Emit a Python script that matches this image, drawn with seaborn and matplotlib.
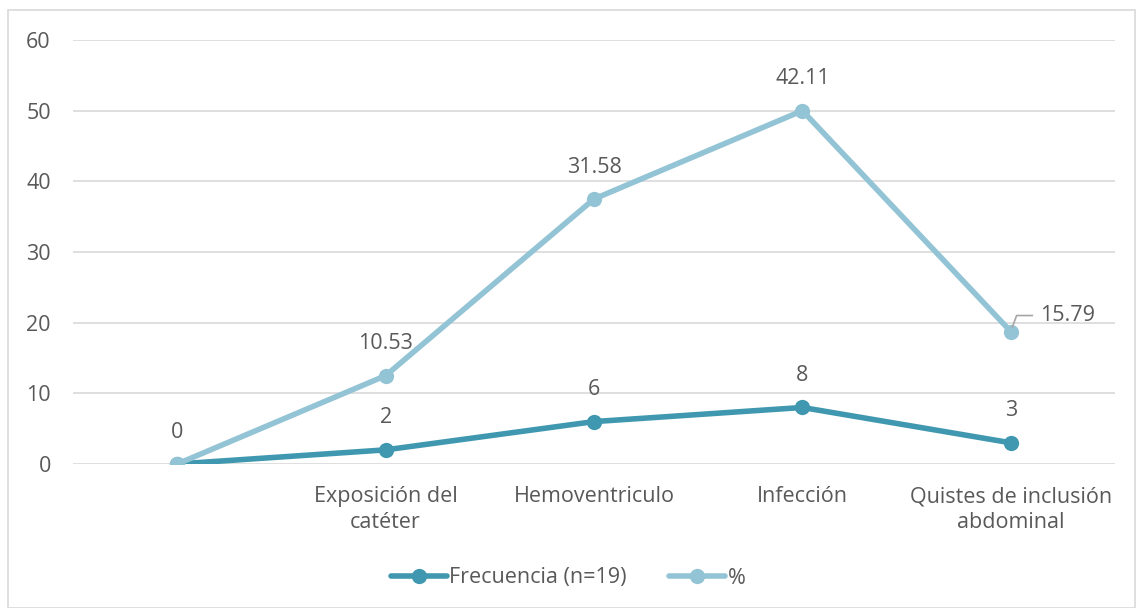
import matplotlib
matplotlib.use("Agg")
import matplotlib.pyplot as plt
import seaborn as sns
import pandas as pd
from matplotlib.patches import Rectangle
from matplotlib.lines import Line2D

categories = ["", "Exposición del\ncatéter", "Hemoventriculo", "Infección", "Quistes de inclusión\nabdominal"]
frecuencia = [0, 2, 6, 8, 3]
porcentaje_plot = [0, 12.5, 37.5, 50, 18.75]
porcentaje_labels = ["0", "10.53", "31.58", "42.11", "15.79"]
frecuencia_labels = ["", "2", "6", "8", "3"]
yticks = [0, 10, 20, 30, 40, 50, 60]

sns.set_theme(style="white")
plt.rcParams['font.family'] = ['Open Sans', 'DejaVu Sans']

dark = "#3F98AF"
light = "#93C4D5"
txt = "#595959"
fs = 15.5

fig = plt.figure(figsize=(11.36, 6.08), dpi=100)
ax = fig.add_axes([73/1136, 1 - 464/608, (1115-73)/1136, (464-40)/608])

x = list(range(len(categories)))
df = pd.DataFrame({
    "x": x * 2,
    "y": frecuencia + porcentaje_plot,
    "serie": ["Frecuencia (n=19)"] * len(x) + ["%"] * len(x),
})
sns.lineplot(data=df, x="x", y="y", hue="serie", palette=[dark, light],
             marker="o", markersize=11, linewidth=4, markeredgewidth=0, ax=ax, legend=False)

ax.set_xlim(-0.5, len(categories) - 0.5)
ax.set_ylim(0, 60)
ax.set_yticks(yticks)
ax.set_yticklabels([str(t) for t in yticks], fontsize=fs, color=txt)
ax.set_xticks(x)
ax.set_xticklabels(categories, fontsize=fs, color=txt, linespacing=1.3)
ax.tick_params(axis="y", length=0, pad=16)
ax.tick_params(axis="x", length=0, pad=16)
ax.grid(axis="y", color="#D9D9D9", linewidth=1.2)
ax.set_axisbelow(True)
for s in ax.spines.values():
    s.set_visible(False)
ax.set_xlabel("")
ax.set_ylabel("")

for xi, (v, lab) in enumerate(zip(frecuencia, frecuencia_labels)):
    if lab:
        ax.annotate(lab, (xi, v), xytext=(0, 23), textcoords="offset points",
                    ha="center", va="center", fontsize=fs, color=txt)
for xi, (v, lab) in enumerate(zip(porcentaje_plot, porcentaje_labels)):
    if xi == 4:
        ax.annotate(lab, (xi, v), xytext=(21, 11.5), textcoords="offset points",
                    ha="left", va="center", fontsize=fs, color=txt,
                    arrowprops=dict(arrowstyle="-", color="#A6A6A6", lw=1.2,
                                    connectionstyle="angle,angleA=0,angleB=70,rad=0",
                                    shrinkA=3, shrinkB=3))
    else:
        ax.annotate(lab, (xi, v), xytext=(0, 23), textcoords="offset points",
                    ha="center", va="center", fontsize=fs, color=txt)

handles = [Line2D([], [], color=dark, lw=4, marker="o", markersize=11, markeredgewidth=0),
           Line2D([], [], color=light, lw=4, marker="o", markersize=11, markeredgewidth=0)]
fig.legend(handles, ["Frecuencia (n=19)", "%"], loc="center", bbox_to_anchor=(0.5, 1 - 578/608),
           ncol=2, frameon=False, fontsize=fs, labelcolor=txt, handlelength=2.6,
           handletextpad=0.1, columnspacing=2.0)

fig.patches.append(Rectangle((8/1136, 0.5/608), (1135-8)/1136, (598-0)/608, transform=fig.transFigure,
                             fill=False, edgecolor="#D9D9D9", lw=1.2))

fig.savefig("out.png", dpi=100)
